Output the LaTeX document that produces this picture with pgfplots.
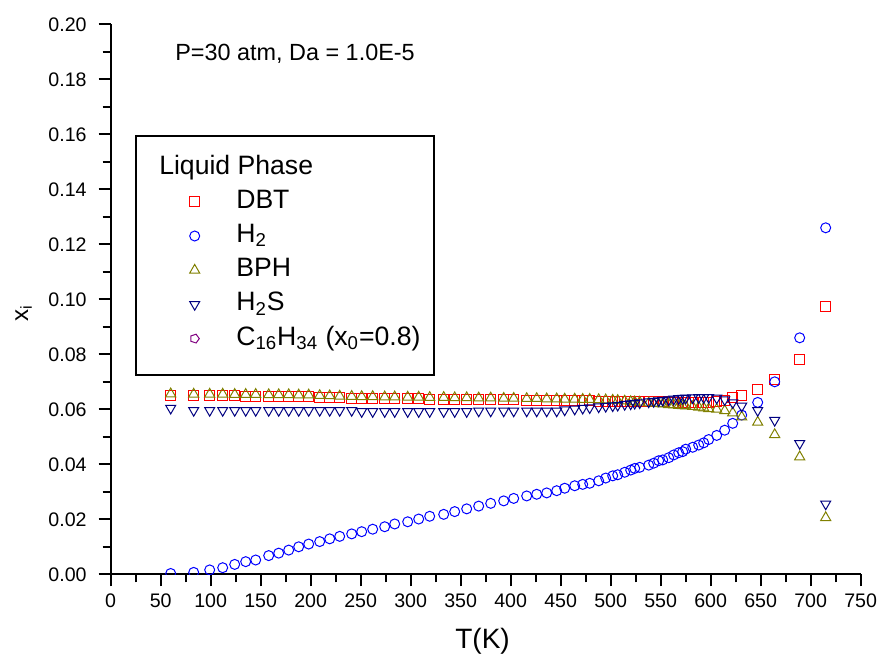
\documentclass[border=0pt]{standalone}
\usepackage{fontspec}
\setmainfont{Liberation Sans}
\usepackage{pgfplots}
\pgfplotsset{compat=1.18}
\usepackage{pgfplotstable}
\usetikzlibrary{plotmarks}
\definecolor{cDBT}{HTML}{FF0000}
\definecolor{cH}{HTML}{0000FF}
\definecolor{cBPH}{HTML}{808000}
\definecolor{cHS}{HTML}{000080}
\definecolor{cC}{HTML}{800080}

\pgfplotstableread{
T H2 DBT BPH H2S
60 0.0003 0.0651 0.0656 0.0604
83 0.0007 0.0650 0.0655 0.0596
99 0.0016 0.0650 0.0655 0.0596
112 0.0024 0.0649 0.0655 0.0596
124 0.0036 0.0649 0.0654 0.0596
135 0.0046 0.0648 0.0654 0.0596
145 0.0052 0.0648 0.0654 0.0596
158 0.0068 0.0647 0.0653 0.0596
168 0.0077 0.0647 0.0653 0.0596
178 0.0088 0.0646 0.0653 0.0596
188 0.0100 0.0646 0.0652 0.0596
198 0.0110 0.0645 0.0652 0.0596
209 0.0119 0.0644 0.0650 0.0596
219 0.0129 0.0643 0.0649 0.0596
229 0.0138 0.0642 0.0648 0.0596
241 0.0147 0.0641 0.0647 0.0596
251 0.0155 0.0640 0.0646 0.0592
262 0.0164 0.0640 0.0646 0.0592
274 0.0173 0.0639 0.0645 0.0592
284 0.0183 0.0639 0.0645 0.0592
297 0.0191 0.0638 0.0644 0.0592
308 0.0201 0.0638 0.0644 0.0592
319 0.0211 0.0637 0.0643 0.0592
333 0.0218 0.0637 0.0643 0.0592
344 0.0228 0.0636 0.0642 0.0592
356 0.0238 0.0636 0.0642 0.0592
368 0.0248 0.0635 0.0641 0.0594
380 0.0258 0.0635 0.0641 0.0594
393 0.0267 0.0634 0.0640 0.0594
403 0.0276 0.0634 0.0640 0.0594
416 0.0285 0.0633 0.0639 0.0594
426 0.0291 0.0633 0.0639 0.0594
436 0.0296 0.0633 0.0638 0.0594
446 0.0304 0.0632 0.0638 0.0594
454 0.0313 0.0632 0.0637 0.0598
464 0.0322 0.0631 0.0637 0.0601
472 0.0327 0.0631 0.0636 0.0604
479 0.0331 0.0631 0.0636 0.0606
488 0.0340 0.0630 0.0635 0.0609
495 0.0350 0.0630 0.0634 0.0611
502 0.0358 0.0630 0.0633 0.0613
507 0.0362 0.0629 0.0632 0.0615
514 0.0371 0.0629 0.0630 0.0618
520 0.0379 0.0629 0.0628 0.0620
524 0.0385 0.0628 0.0627 0.0622
529 0.0389 0.0628 0.0626 0.0624
538 0.0397 0.0628 0.0623 0.0627
543 0.0404 0.0627 0.0622 0.0629
548 0.0413 0.0627 0.0620 0.0631
552 0.0416 0.0627 0.0619 0.0633
558 0.0424 0.0626 0.0617 0.0635
563 0.0434 0.0626 0.0616 0.0637
568 0.0442 0.0626 0.0614 0.0639
572 0.0446 0.0626 0.0613 0.0640
575 0.0455 0.0626 0.0612 0.0641
582 0.0462 0.0625 0.0610 0.0642
588 0.0470 0.0625 0.0608 0.0643
593 0.0478 0.0625 0.0605 0.0643
598 0.0490 0.0626 0.0602 0.0643
606 0.0505 0.0627 0.0600 0.0641
614 0.0524 0.0632 0.0595 0.0635
622 0.0549 0.0642 0.0587 0.0624
631 0.0579 0.0652 0.0572 0.0612
647 0.0625 0.0673 0.0553 0.0596
664 0.0700 0.0708 0.0508 0.0560
689 0.0860 0.0780 0.0427 0.0476
715 0.1260 0.0975 0.0206 0.0256
}\data

\begin{document}
\begin{tikzpicture}
\begin{axis}[
  scale only axis, width=375pt, height=275pt,
  xmin=0, xmax=750, ymin=0, ymax=0.2,
  axis lines*=left,
  axis line style={-, line width=1pt, black},
  xtick={0,50,...,750},
  ytick={0,0.02,0.04,0.06,0.08,0.10,0.12,0.14,0.16,0.18,0.20},
  minor x tick num=1, minor y tick num=1,
  tick align=outside,
  major tick length=6pt, minor tick length=4pt,
  tick style={line width=1pt, black},
  yticklabel style={xshift=-2.5pt, /pgf/number format/.cd, fixed, fixed zerofill, precision=2},
  tick label style={font=\fontsize{9.8}{12}\selectfont},
  /pgf/number format/assume math mode=true,
  clip marker paths=true,
  xlabel={T(K)},
  xlabel style={at={(axis description cs:0.4958,-0.1213)}, anchor=center, font=\fontsize{14}{16}\selectfont},
  ylabel={x\textsubscript{i}},
  ylabel style={at={(axis description cs:-0.116,0.475)}, anchor=center, font=\fontsize{12}{14}\selectfont},
  legend image code/.code={\pgfpathmoveto{\pgfpointorigin}\pgfpathlineto{\pgfpoint{27.8pt}{0pt}}\pgfusepath{discard}\draw[#1, only marks] plot coordinates {(7pt,0pt)};},
  legend style={at={(axis description cs:0.0928,0.7629)}, anchor=north west, draw=none, fill=none,
    inner sep=0pt, row sep=4.6pt, column sep=0pt, font=\fontsize{13.3}{16}\selectfont,
    nodes={inner sep=0pt, text height=9.5pt, text depth=3pt}},
  legend cell align=left,
]
\addlegendimage{empty legend}
\addlegendentry{\hspace*{-38.5pt}Liquid Phase}
\addplot[only marks, mark=square, mark size=2.5pt, color=cDBT, mark options={line width=0.5pt}] table[x=T, y=DBT] {\data};
\addlegendentry{DBT}
\addplot[only marks, mark=o, mark size=2.5pt, color=cH, mark options={line width=0.5pt}] table[x=T, y=H2] {\data};
\addlegendentry{H\textsubscript{2}}
\addplot[only marks, mark=triangle, mark size=2.9pt, color=cBPH, mark options={line width=0.5pt}] table[x=T, y=BPH] {\data};
\addlegendentry{BPH}
\addplot[only marks, mark=triangle, mark size=2.9pt, color=cHS, mark options={line width=0.5pt, rotate=180}] table[x=T, y=H2S] {\data};
\addlegendentry{H\textsubscript{2}S}
\addlegendimage{only marks, mark=pentagon, mark size=2.3pt, color=cC, mark options={line width=0.5pt, rotate=-90}}
\addlegendentry{C\textsubscript{16}H\textsubscript{34} (x\textsubscript{0}=0.8)}
\draw[line width=1pt, black] (axis description cs:0.0337,0.797) rectangle (axis description cs:0.4311,0.3625);
\node[anchor=base west, inner sep=0pt, font=\fontsize{11.7}{14}\selectfont] at (axis description cs:0.0857,0.935) {P=30 atm, Da = 1.0E-5};
\end{axis}
\pgfresetboundingbox
\path (-55.35pt,-42.85pt) rectangle (384.65pt,287.15pt);
\end{tikzpicture}
\end{document}
